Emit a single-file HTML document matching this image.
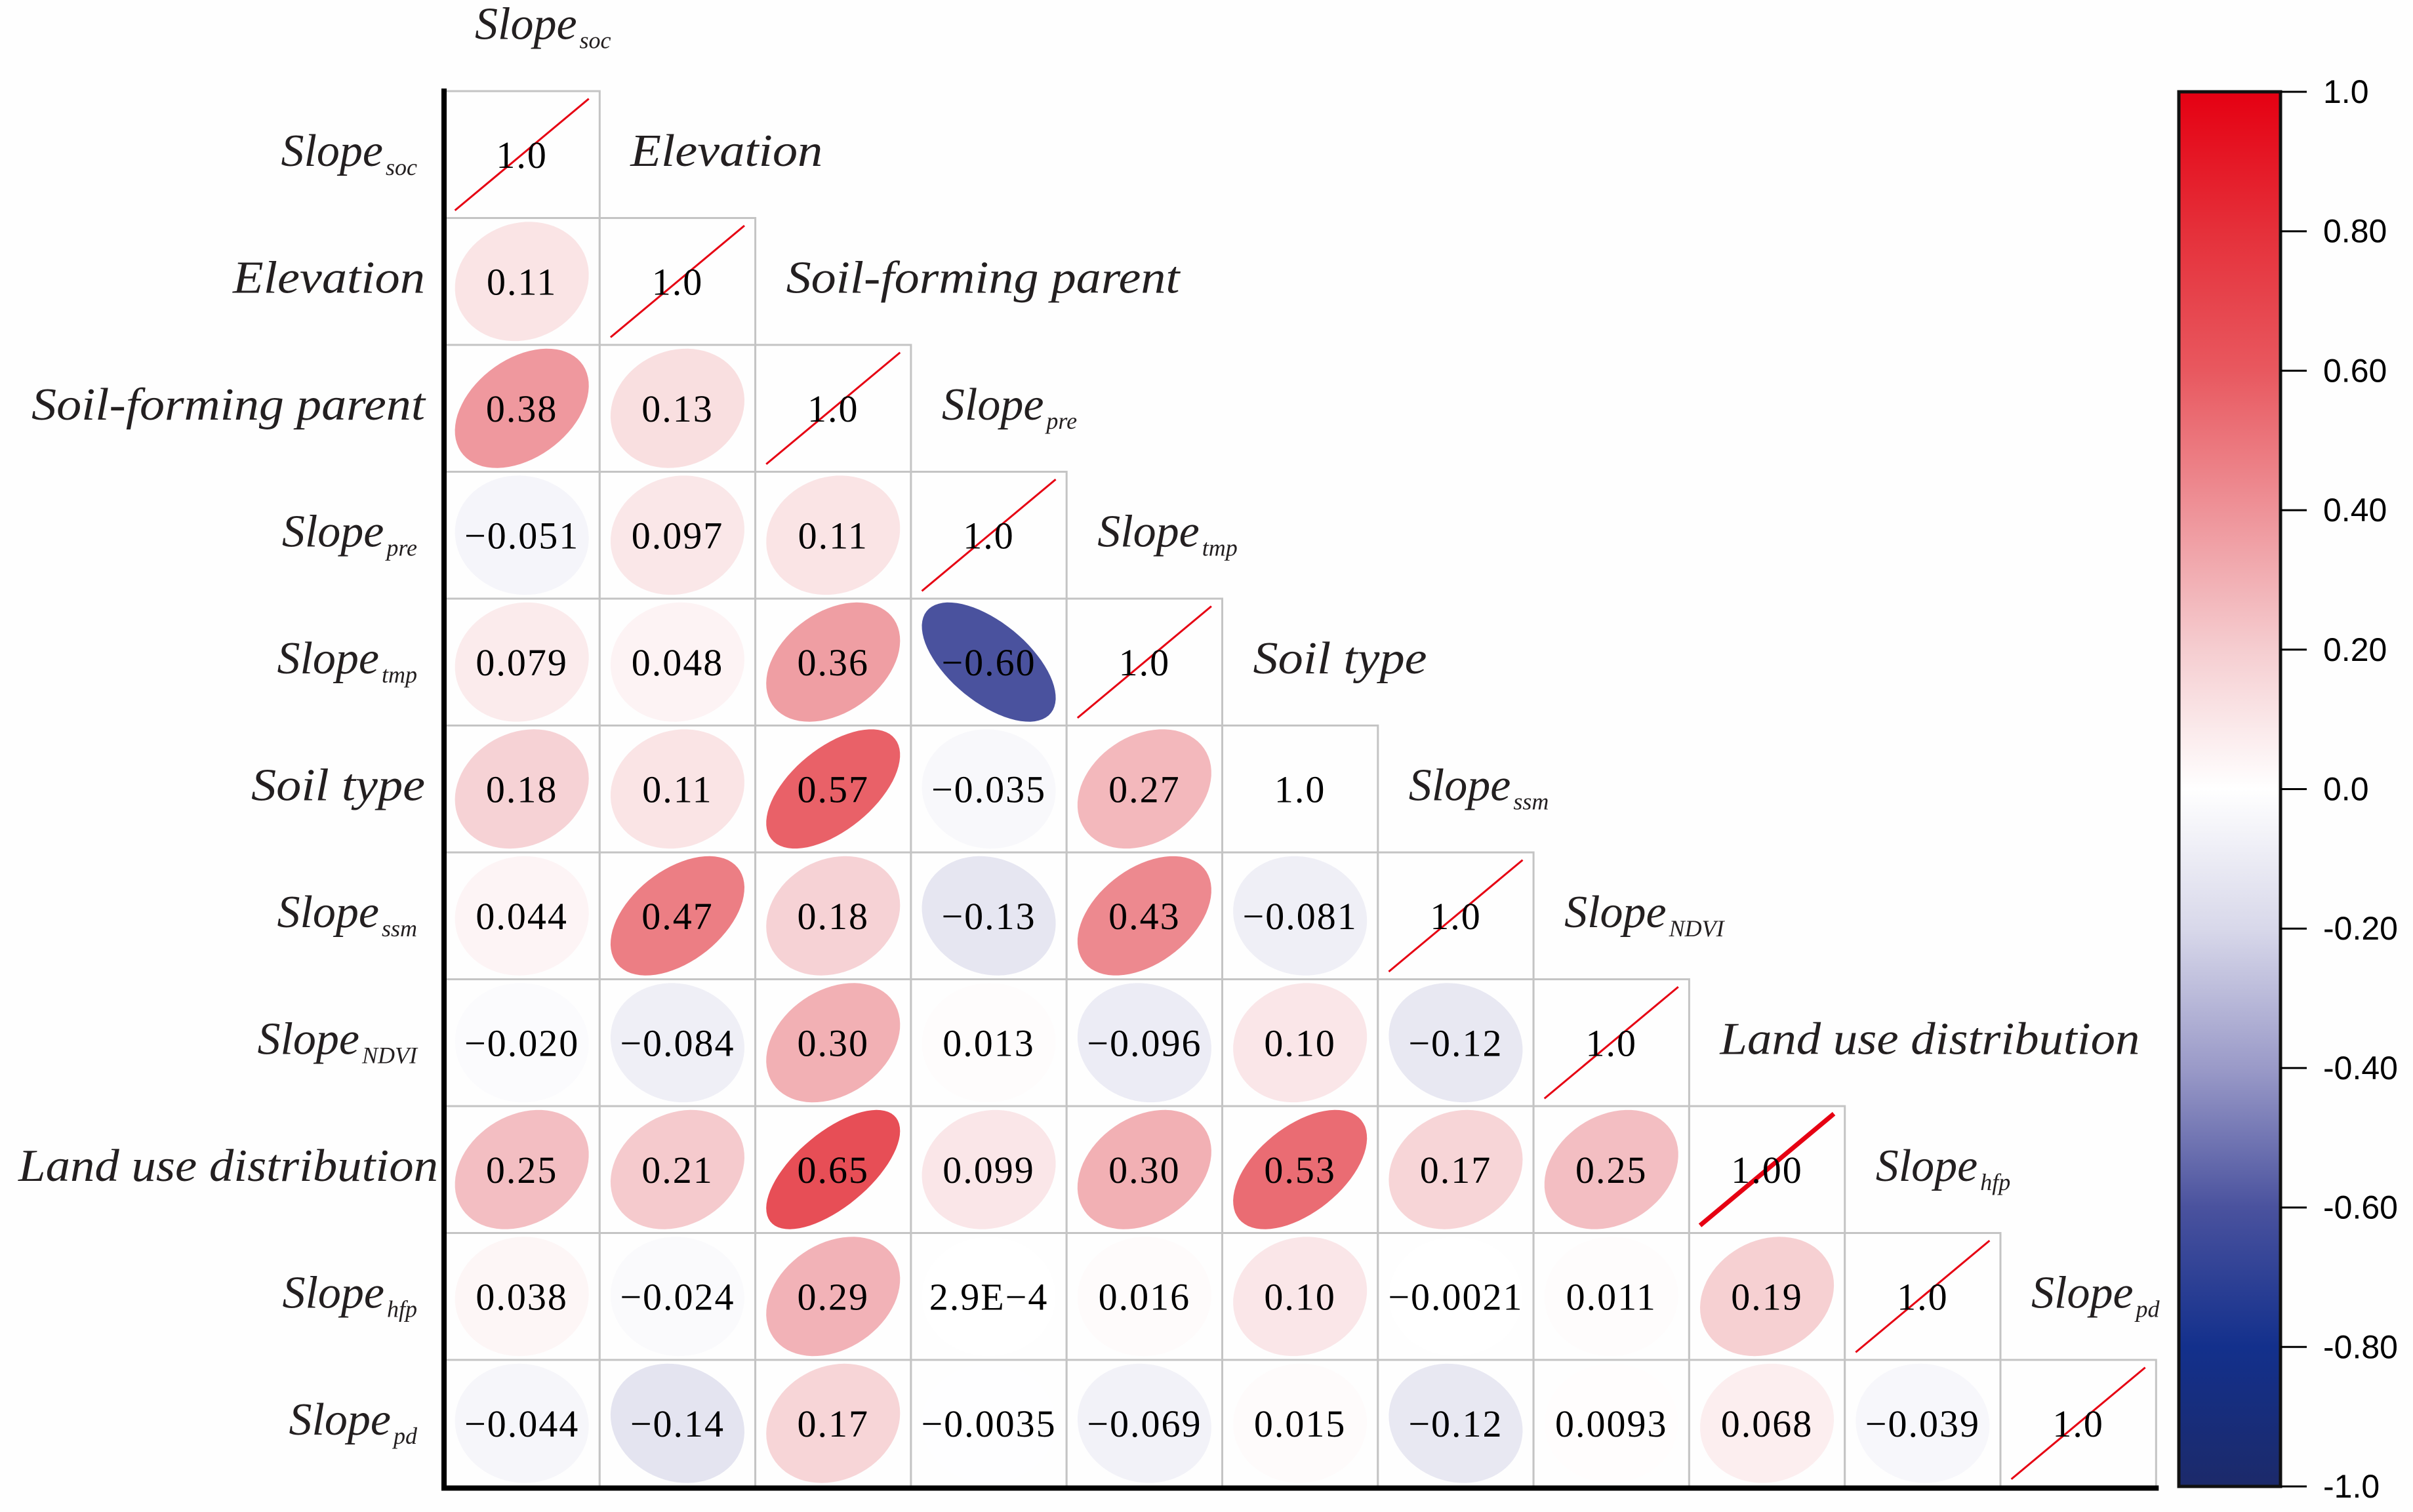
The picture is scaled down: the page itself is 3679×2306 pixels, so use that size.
<!DOCTYPE html>
<html><head><meta charset="utf-8">
<style>
html,body{margin:0;padding:0;background:#fefefe;}
svg{display:block;}
.lab{font-family:"Liberation Serif",serif;font-style:italic;fill:#231f20;}
.num{font-family:"Liberation Serif",serif;fill:#000;}
.cb{font-family:"Liberation Sans",sans-serif;fill:#000;}
</style></head>
<body>
<svg id="chart" xmlns="http://www.w3.org/2000/svg" width="3679" height="2306" viewBox="0 0 3679 2306">
<rect x="0" y="0" width="3679" height="2306" fill="#fefefe"/>
<defs>
<linearGradient id="cgrad" x1="0" y1="0" x2="0" y2="1">
<stop offset="0" stop-color="#e50012"/>
<stop offset="0.1" stop-color="#e5303a"/>
<stop offset="0.2" stop-color="#e8585f"/>
<stop offset="0.3" stop-color="#ee9298"/>
<stop offset="0.4" stop-color="#f5cdd0"/>
<stop offset="0.5" stop-color="#ffffff"/>
<stop offset="0.6" stop-color="#d8d8ea"/>
<stop offset="0.7" stop-color="#9a9ac8"/>
<stop offset="0.8" stop-color="#4a529e"/>
<stop offset="0.9" stop-color="#13308c"/>
<stop offset="1" stop-color="#1c2a6a"/>
</linearGradient>
</defs>
<g id="cells"></g>
<g id="labels"></g>
<g id="cbar"></g>
</svg>
<script>
const varNames = ["Slope","Elevation","Soil-forming parent","Slope","Slope","Soil type","Slope","Slope","Land use distribution","Slope","Slope"];
const varSubs = ["soc","","","pre","tmp","","ssm","NDVI","","hfp","pd"];
const corrValues = [
  [1.0],
  [0.11,1.0],
  [0.38,0.13,1.0],
  [-0.051,0.097,0.11,1.0],
  [0.079,0.048,0.36,-0.60,1.0],
  [0.18,0.11,0.57,-0.035,0.27,1.0],
  [0.044,0.47,0.18,-0.13,0.43,-0.081,1.0],
  [-0.020,-0.084,0.30,0.013,-0.096,0.10,-0.12,1.0],
  [0.25,0.21,0.65,0.099,0.30,0.53,0.17,0.25,1.0],
  [0.038,-0.024,0.29,0.00029,0.016,0.10,-0.0021,0.011,0.19,1.0],
  [-0.044,-0.14,0.17,-0.0035,-0.069,0.015,-0.12,0.0093,0.068,-0.039,1.0]
];
const corrLabels = [
  ["1.0"],
  ["0.11","1.0"],
  ["0.38","0.13","1.0"],
  ["-0.051","0.097","0.11","1.0"],
  ["0.079","0.048","0.36","-0.60","1.0"],
  ["0.18","0.11","0.57","-0.035","0.27","1.0"],
  ["0.044","0.47","0.18","-0.13","0.43","-0.081","1.0"],
  ["-0.020","-0.084","0.30","0.013","-0.096","0.10","-0.12","1.0"],
  ["0.25","0.21","0.65","0.099","0.30","0.53","0.17","0.25","1.00"],
  ["0.038","-0.024","0.29","2.9E-4","0.016","0.10","-0.0021","0.011","0.19","1.0"],
  ["-0.044","-0.14","0.17","-0.0035","-0.069","0.015","-0.12","0.0093","0.068","-0.039","1.0"]
];
const cbTicks = [1.0,0.8,0.6,0.4,0.2,0.0,-0.2,-0.4,-0.6,-0.8,-1.0];
const cbTickLabels = ["1.0","0.80","0.60","0.40","0.20","0.0","-0.20","-0.40","-0.60","-0.80","-1.0"];

const NS="http://www.w3.org/2000/svg";
const L=677, T=139, CW=237.3, CH=193.5, N=varNames.length;
const colX = j => L + j*CW;
const rowY = i => T + i*CH;
const stops=[[-1,[28,42,106]],[-0.8,[19,48,140]],[-0.6,[74,82,158]],[-0.4,[154,154,200]],[-0.2,[216,216,234]],[0,[255,255,255]],[0.2,[245,205,208]],[0.4,[238,146,152]],[0.6,[232,88,95]],[0.8,[229,48,58]],[1,[229,0,18]]];
function color(v){
  v=Math.max(-1,Math.min(1,v));
  for(let k=0;k<stops.length-1;k++){
    const [a,ca]=stops[k],[b,cb]=stops[k+1];
    if(v>=a&&v<=b){const t=(v-a)/(b-a);return "rgb("+ca.map((c,m)=>Math.round(c+(cb[m]-c)*t)).join(",")+")";}
  }
  return "#fff";
}
function el(tag,attrs,parent){const e=document.createElementNS(NS,tag);for(const k in attrs)e.setAttribute(k,attrs[k]);parent.appendChild(e);return e;}

const cells=document.getElementById('cells');
const labels=document.getElementById('labels');
for(let i=0;i<N;i++){
  for(let j=0;j<=i;j++){
    const x=colX(j), y=rowY(i), v=corrValues[i][j];
    const g=el('g',{},cells);
    
    
    const r=el('rect',{x:x,y:y,width:CW,height:CH,fill:'#fefefe',stroke:'#c4c4c4','stroke-width':3},g);
    
    
    const cx=x+CW/2, cy=y+CH/2;
    if(i===j){
      if(i!==5){
        const ln=el('line',{x1:x+0.07*CW,y1:y+CH-0.06*CH,x2:x+0.93*CW,y2:y+0.06*CH,stroke:'#e60012','stroke-width':(i===8?7:3)},g);
        
        
      }
    } else {
      const a=Math.sqrt(1+v), b=Math.sqrt(1-v);
      let d="";
      for(let s=0;s<=72;s++){
        const t=s/72*2*Math.PI;
        const ux=(a*Math.cos(t)-b*Math.sin(t))/Math.SQRT2;
        const uy=(a*Math.cos(t)+b*Math.sin(t))/Math.SQRT2;
        const px=cx+ux*0.43*CW, py=cy-uy*0.47*CH;
        d+=(s?"L":"M")+px.toFixed(1)+" "+py.toFixed(1);
      }
      const p=el('path',{d:d+"Z",fill:color(v)},g);
      
      
    }
    const tx=el('text',{x:cx,y:cy+20,'text-anchor':'middle','font-size':58,'letter-spacing':2,class:'num'},g);
    tx.textContent=corrLabels[i][j].replace('-','\u2212');
    
    
  }
}
// axes
const ax=el('line',{x1:L,y1:T-4,x2:L,y2:rowY(N)+4,stroke:'#000','stroke-width':8},cells);


const bx=el('line',{x1:L-4,y1:rowY(N)+2,x2:colX(N)+4,y2:rowY(N)+2,stroke:'#000','stroke-width':8},cells);



const plainWidths={"Elevation":293,"Soil-forming parent":600,"Soil type":265,"Land use distribution":640};
function addLabel(i,x,y,anchor,name){
  const t=el('text',{x:x,y:y,'text-anchor':anchor,'font-size':70,class:'lab'},labels);
  
  
  if(varSubs[i]){
    const a=el('tspan',{},t);a.textContent=varNames[i];
    const b=el('tspan',{'font-size':36,dy:14,dx:4},t);b.textContent=varSubs[i];
  } else {
    t.textContent=varNames[i];
    if(plainWidths[varNames[i]]){t.setAttribute('textLength',plainWidths[varNames[i]]);t.setAttribute('lengthAdjust','spacingAndGlyphs');}
  }
}
for(let i=0;i<N;i++){
  const endX = varSubs[i] ? 636 : (i===8 ? 668 : 648);
  addLabel(i, endX, rowY(i)+CH/2+17, 'end', 'row-label-'+i);
  addLabel(i, colX(i)+47, rowY(i)-CH/2+17, 'start', 'column-label-'+i);
}

// colorbar
const cbar=document.getElementById('cbar');
const CBX=3322, CBW=155, CBT=140, CBB=2267;
const cbY = v => CBT + (1-v)/2*(CBB-CBT);
const cr=el('rect',{x:CBX,y:CBT,width:CBW,height:CBB-CBT,fill:'url(#cgrad)',stroke:'#111','stroke-width':5},cbar);


cbTicks.forEach((v,k)=>{
  const y=cbY(v);
  const tl=el('line',{x1:CBX+CBW,y1:y,x2:CBX+CBW+40,y2:y,stroke:'#000','stroke-width':3},cbar);
  
  
  const tt=el('text',{x:3542,y:y+17,'font-size':50,class:'cb'},cbar);
  tt.textContent=cbTickLabels[k];
  
  
});
</script>
</body></html>
